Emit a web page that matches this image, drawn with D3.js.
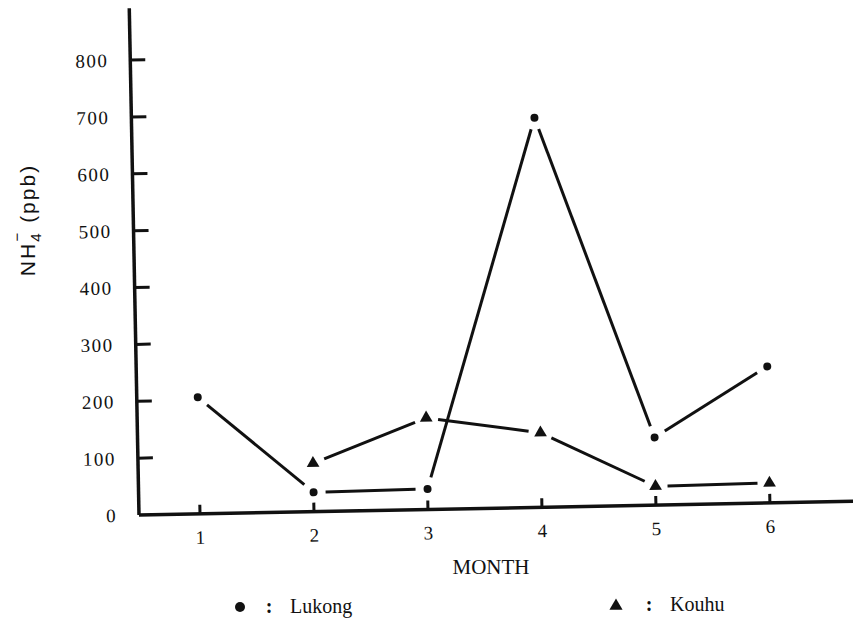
<!DOCTYPE html>
<html>
<head>
<meta charset="utf-8">
<script src="https://cdn.jsdelivr.net/npm/d3@7"></script>
<style>
  body { margin: 0; background: #fff; }
  svg { display: block; }
</style>
</head>
<body>
<svg id="chart"></svg>
<script>
// data
const months = [1, 2, 3, 4, 5, 6];
const monthLabels = ["1", "2", "3", "4", "5", "6"];
const lukong = [205, 34, 36, 685, 119, 240];
const kouhuMonths = [2, 3, 4, 5, 6];
const kouhu = [85, 161, 131, 33, 35];
const yTicks = [0, 100, 200, 300, 400, 500, 600, 700, 800];

const width = 853;
const height = 623;
const ink = "#111";
const serif = "'Liberation Serif', 'DejaVu Serif', serif";
const sans = "'Liberation Sans', Arial, sans-serif";

const svg = d3.select("#chart")
    .attr("width", width)
    .attr("height", height);

svg.append("rect")
    .attr("width", width)
    .attr("height", height)
    .attr("fill", "#fff");

// the scanned plot sits slightly tilted, so draw it in a rotated frame
const plot = svg.append("g")
    .attr("transform", "translate(139,515) rotate(-1.1)");

const x = d3.scaleLinear().domain([1, 6]).range([61, 631]);
const y = d3.scaleLinear().domain([0, 800]).range([0, -455]);

// axes lines
plot.append("line")
    .attr("x1", 0).attr("y1", 0)
    .attr("x2", 0).attr("y2", y(891))
    .attr("stroke", ink).attr("stroke-width", 3.5);

plot.append("line")
    .attr("x1", 0).attr("y1", 0)
    .attr("x2", 730).attr("y2", 0)
    .attr("stroke", ink).attr("stroke-width", 3.5);

// y ticks (pointing inward)
plot.selectAll(".ytick")
    .data(yTicks.filter(d => d > 0))
    .enter().append("line")
    .attr("x1", 0).attr("x2", 15)
    .attr("y1", d => y(d)).attr("y2", d => y(d))
    .attr("stroke", ink).attr("stroke-width", 3);

plot.selectAll(".ylabel")
    .data(yTicks)
    .enter().append("text")
    .attr("x", -22)
    .attr("y", d => y(d))
    .attr("dy", "0.35em")
    .attr("text-anchor", "end")
    .attr("font-family", serif)
    .attr("font-size", 19)
    .attr("letter-spacing", 1.5)
    .attr("fill", ink)
    .text(d => d);

// x ticks (pointing up)
plot.selectAll(".xtick")
    .data(months)
    .enter().append("line")
    .attr("x1", d => x(d)).attr("x2", d => x(d))
    .attr("y1", 0).attr("y2", -9)
    .attr("stroke", ink).attr("stroke-width", 3);

plot.selectAll(".xlabel")
    .data(months)
    .enter().append("text")
    .attr("x", d => x(d))
    .attr("y", 30)
    .attr("text-anchor", "middle")
    .attr("font-family", serif)
    .attr("font-size", 19)
    .attr("fill", ink)
    .text((d, i) => monthLabels[i]);

// line segments stop short of the markers, like the original
let segments = (pts, gap) => {
    let out = [];
    for (let i = 0; i < pts.length - 1; i++) {
        let a = pts[i], b = pts[i + 1];
        let dx = b[0] - a[0], dy = b[1] - a[1];
        let len = Math.sqrt(dx * dx + dy * dy);
        out.push({
            x1: a[0] + dx / len * gap, y1: a[1] + dy / len * gap,
            x2: b[0] - dx / len * gap, y2: b[1] - dy / len * gap
        });
    }
    return out;
};

const lukongPts = months.map((m, i) => [x(m), y(lukong[i])]);
const kouhuPts = kouhuMonths.map((m, i) => [x(m), y(kouhu[i])]);

plot.append("g").selectAll("line")
    .data(segments(lukongPts, 12).concat(segments(kouhuPts, 12)))
    .enter().append("line")
    .attr("x1", d => d.x1).attr("y1", d => d.y1)
    .attr("x2", d => d.x2).attr("y2", d => d.y2)
    .attr("stroke", ink)
    .attr("stroke-width", 3);

plot.append("g").selectAll("circle")
    .data(lukongPts)
    .enter().append("circle")
    .attr("cx", d => d[0]).attr("cy", d => d[1])
    .attr("r", 4)
    .attr("fill", ink);

const tri = d3.symbol().type(d3.symbolTriangle).size(70);
plot.append("g").selectAll("path")
    .data(kouhuPts)
    .enter().append("path")
    .attr("d", tri)
    .attr("transform", d => "translate(" + d[0] + "," + d[1] + ")")
    .attr("fill", ink);

// axis titles
svg.append("text")
    .attr("x", 491).attr("y", 574)
    .attr("text-anchor", "middle")
    .attr("font-family", serif)
    .attr("font-size", 21)
    .attr("fill", ink)
    .text("MONTH");

const yTitle = svg.append("text")
    .attr("transform", "translate(35,220) rotate(-90)")
    .attr("text-anchor", "middle")
    .attr("font-family", sans)
    .attr("font-size", 21)
    .attr("letter-spacing", 2)
    .attr("fill", ink);
yTitle.append("tspan").text("NH");
yTitle.append("tspan").attr("font-size", 15).attr("dy", 6).text("4");
yTitle.append("tspan").attr("font-size", 15).attr("dx", -10).attr("dy", -19).text("\u2212");
yTitle.append("tspan").attr("dy", 13).text(" (ppb)");

// legend
svg.append("circle")
    .attr("cx", 240).attr("cy", 607).attr("r", 5)
    .attr("fill", ink);
svg.append("text")
    .attr("x", 269).attr("y", 613)
    .attr("text-anchor", "middle")
    .attr("font-family", serif).attr("font-size", 20).attr("font-weight", "bold")
    .attr("fill", ink).text(":");
svg.append("text")
    .attr("x", 290).attr("y", 613)
    .attr("font-family", serif).attr("font-size", 20)
    .attr("fill", ink).text("Lukong");

svg.append("path")
    .attr("d", d3.symbol().type(d3.symbolTriangle).size(75))
    .attr("transform", "translate(616,606)")
    .attr("fill", ink);
svg.append("text")
    .attr("x", 649).attr("y", 611)
    .attr("text-anchor", "middle")
    .attr("font-family", serif).attr("font-size", 20).attr("font-weight", "bold")
    .attr("fill", ink).text(":");
svg.append("text")
    .attr("x", 670).attr("y", 611)
    .attr("font-family", serif).attr("font-size", 20)
    .attr("fill", ink).text("Kouhu");
</script>
</body>
</html>
